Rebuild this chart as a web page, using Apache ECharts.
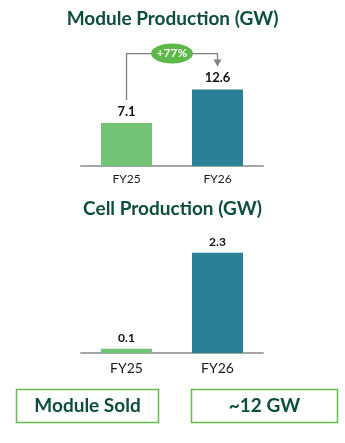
<!DOCTYPE html>
<html><head><meta charset="utf-8">
<script src="https://cdn.jsdelivr.net/npm/echarts@6/dist/echarts.min.js"></script>
<style>html,body{margin:0;padding:0;background:#fff}#c{width:345px;height:443px}</style>
</head><body><div id="c"></div>
<script>
var categories = ['FY25', 'FY26'];
var moduleProduction = [7.1, 12.6];
var cellProduction = [0.1, 2.3];
var growthLabel = '+77%';
var titles = ['Module Production (GW)', 'Cell Production (GW)'];
var boxTexts = ['Module Sold', '~12 GW'];

var GREEN = '#72c475', TEAL = '#2a8094', DARK = '#0d4d3c', BOXG = '#66bb4c';
var FONT = 'Lato, "Open Sans", sans-serif';

function barData(vals) {
  return vals.map(function (v, i) { return { value: v, itemStyle: { color: i === 0 ? GREEN : TEAL } }; });
}
var chart = echarts.init(document.getElementById('c'));
var option = {
  animation: false,
  title: [
    { text: titles[0], left: 'center', top: 4, textStyle: { fontFamily: FONT, fontSize: 19, fontWeight: 'bold', color: DARK } },
    { text: titles[1], left: 'center', top: 194, textStyle: { fontFamily: FONT, fontSize: 19, fontWeight: 'bold', color: DARK } }
  ],
  grid: [
    { left: 81, width: 182, top: 75, height: 91 },
    { left: 81, width: 182, top: 244, height: 109 }
  ],
  xAxis: [
    { gridIndex: 0, type: 'category', data: categories, axisTick: { show: false },
      axisLine: { lineStyle: { color: '#a6a6a6', width: 2 } },
      axisLabel: { color: '#1a1a1a', fontFamily: FONT, fontSize: 12, margin: 7 } },
    { gridIndex: 1, type: 'category', data: categories, axisTick: { show: false },
      axisLine: { lineStyle: { color: '#a6a6a6', width: 2 } },
      axisLabel: { color: '#1a1a1a', fontFamily: FONT, fontSize: 14, margin: 8 } }
  ],
  yAxis: [
    { gridIndex: 0, type: 'value', min: 0, max: 15, show: false },
    { gridIndex: 1, type: 'value', min: 0, max: 2.5, show: false }
  ],
  series: [
    { type: 'bar', xAxisIndex: 0, yAxisIndex: 0, data: barData(moduleProduction), barWidth: 51,
      label: { show: true, position: 'top', distance: 5, color: '#111', fontWeight: 'bold', fontFamily: FONT, fontSize: 13 } },
    { type: 'bar', xAxisIndex: 1, yAxisIndex: 1, data: barData(cellProduction), barWidth: 51,
      label: { show: true, position: 'top', distance: 5, color: '#111', fontWeight: 'bold', fontFamily: FONT, fontSize: 12 } }
  ]
};
chart.setOption(option);

// connector annotation computed from axis scales
var p0 = chart.convertToPixel({ xAxisIndex: 0, yAxisIndex: 0 }, [categories[0], moduleProduction[0]]);
var p1 = chart.convertToPixel({ xAxisIndex: 0, yAxisIndex: 0 }, [categories[1], moduleProduction[1]]);
var topY = p1[1] - 36;
var midX = (p0[0] + p1[0]) / 2;
chart.setOption({
  graphic: [
    { type: 'polyline', shape: { points: [[p0[0], p0[1] - 23], [p0[0], topY], [p1[0], topY], [p1[0], p1[1] - 27]] },
      style: { stroke: '#808080', lineWidth: 1.3, fill: null } },
    { type: 'polygon', shape: { points: [[p1[0] - 4, p1[1] - 30], [p1[0] + 4, p1[1] - 30], [p1[0], p1[1] - 23]] },
      style: { fill: '#808080' } },
    { type: 'ellipse', shape: { cx: midX, cy: topY, rx: 21, ry: 10 }, style: { fill: '#5cb948' } },
    { type: 'text', x: midX, y: topY, style: { text: growthLabel, fill: '#fff', font: 'bold 12px ' + FONT, align: 'center', verticalAlign: 'middle' } },
    { type: 'rect', shape: { x: 16.5, y: 389.5, width: 142, height: 33 }, style: { fill: '#fff', stroke: BOXG, lineWidth: 1.5 } },
    { type: 'text', x: 87.5, y: 406, style: { text: boxTexts[0], fill: DARK, font: 'bold 19px ' + FONT, align: 'center', verticalAlign: 'middle' } },
    { type: 'rect', shape: { x: 191.5, y: 389.5, width: 146, height: 33 }, style: { fill: '#fff', stroke: BOXG, lineWidth: 1.5 } },
    { type: 'text', x: 264.5, y: 406, style: { text: boxTexts[1], fill: DARK, font: 'bold 19px ' + FONT, align: 'center', verticalAlign: 'middle' } }
  ]
});
</script></body></html>
